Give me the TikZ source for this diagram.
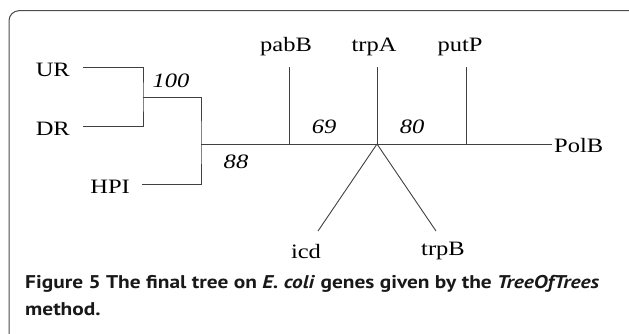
\documentclass[tikz,border=0pt]{standalone}
\usepackage{fontspec}
\usepackage{graphicx}
\setmainfont{Liberation Serif}
\newfontfamily\capfont{PT Sans}
\newcommand{\wider}[2][1.2]{\scalebox{#1}[1]{#2}}
\usetikzlibrary{positioning}
\begin{document}
\begin{tikzpicture}[x=1bp, y=-1bp,
    branch/.style={line width=0.9bp, black!75},
    leaf/.style={inner sep=0pt, font=\fontsize{20.5}{24}\selectfont},
    support/.style={inner sep=0pt, font=\fontsize{20.5}{24}\selectfont\itshape},
    caption/.style={anchor=base west, inner sep=0pt, black!90, font=\capfont\fontsize{18.5}{27}\selectfont\bfseries}]
        \useasboundingbox (0,0) rectangle (629,333);

        % Frame
        \draw[line width=1bp, black!70, rounded corners=10bp] (9,345) -- (9,10.7) -- (640,10.7);

        % Internal points and branch tips
        \coordinate (ur) at (83,67);
        \coordinate (dr) at (83,126);
        \coordinate (hpi) at (142,184);
        \coordinate (j1) at (143,97);
        \coordinate (j2) at (201,144);
        \coordinate (pab) at (289,144);
        \coordinate (trp) at (377,144);
        \coordinate (put) at (466,144);
        \coordinate (polb) at (552,144);
        \coordinate (pabtip) at (289,67);
        \coordinate (trptip) at (377,67);
        \coordinate (puttip) at (466,67);
        \coordinate (icdtip) at (318,231);
        \coordinate (trpbtip) at (436,231);

        % Branches
        \draw[branch] (ur) -| (j1) |- (dr);
        \draw[branch] (j1) -| (j2) |- (hpi);
        \draw[branch] (j2) -- (polb);
        \draw[branch] (pab) -- (pabtip);
        \draw[branch] (trp) -- (trptip);
        \draw[branch] (put) -- (puttip);
        \draw[branch] (trp) -- (icdtip);
        \draw[branch] (trp) -- (trpbtip);

        % Leaves
        \node[leaf, anchor=base east] (UR) at ([xshift=-13bp, yshift=-9.5bp]ur) {\wider{UR}};
        \node[leaf, anchor=base east] (DR) at ([xshift=-13bp, yshift=-9.5bp]dr) {\wider{DR}};
        \node[leaf, anchor=base east] (HPI) at ([xshift=-12bp, yshift=-9.5bp]hpi) {\wider{HPI}};
        \node[leaf, anchor=base] (pabB) at ([xshift=-3bp, yshift=16bp]pabtip) {\wider{pabB}};
        \node[leaf, anchor=base] (trpA) at ([xshift=-3bp, yshift=16bp]trptip) {\wider{trpA}};
        \node[leaf, anchor=base] (putP) at ([xshift=-6bp, yshift=16bp]puttip) {\wider{putP}};
        \node[leaf, anchor=base west] (PolB) at ([xshift=2bp, yshift=-8bp]polb) {\wider{PolB}};
        \node[leaf, anchor=base] (icd) at ([xshift=-12bp, yshift=-27bp]icdtip) {\wider{icd}};
        \node[leaf, anchor=base] (trpB) at ([xshift=7bp, yshift=-24bp]trpbtip) {\wider{trpB}};

        % Support values
        \node[support, anchor=base] (s100) at (171,87) {\wider{100}};
        \node[support, anchor=base] (s88) at (236,168) {\wider{88}};
        \node[support, anchor=base] (s69) at (324,133) {\wider{69}};
        \node[support, anchor=base] (s80) at (412,133) {\wider{80}};

        % Caption
        \node[caption] (cap1) at (25,288)
            {\wider[1.16]{Figure 5 The final tree on \textit{E. coli} genes given by the \textit{TreeOfTrees}}};
        \node[caption] (cap2) at (25,315) {\wider[1.16]{method.}};
    \end{tikzpicture}
\end{document}
